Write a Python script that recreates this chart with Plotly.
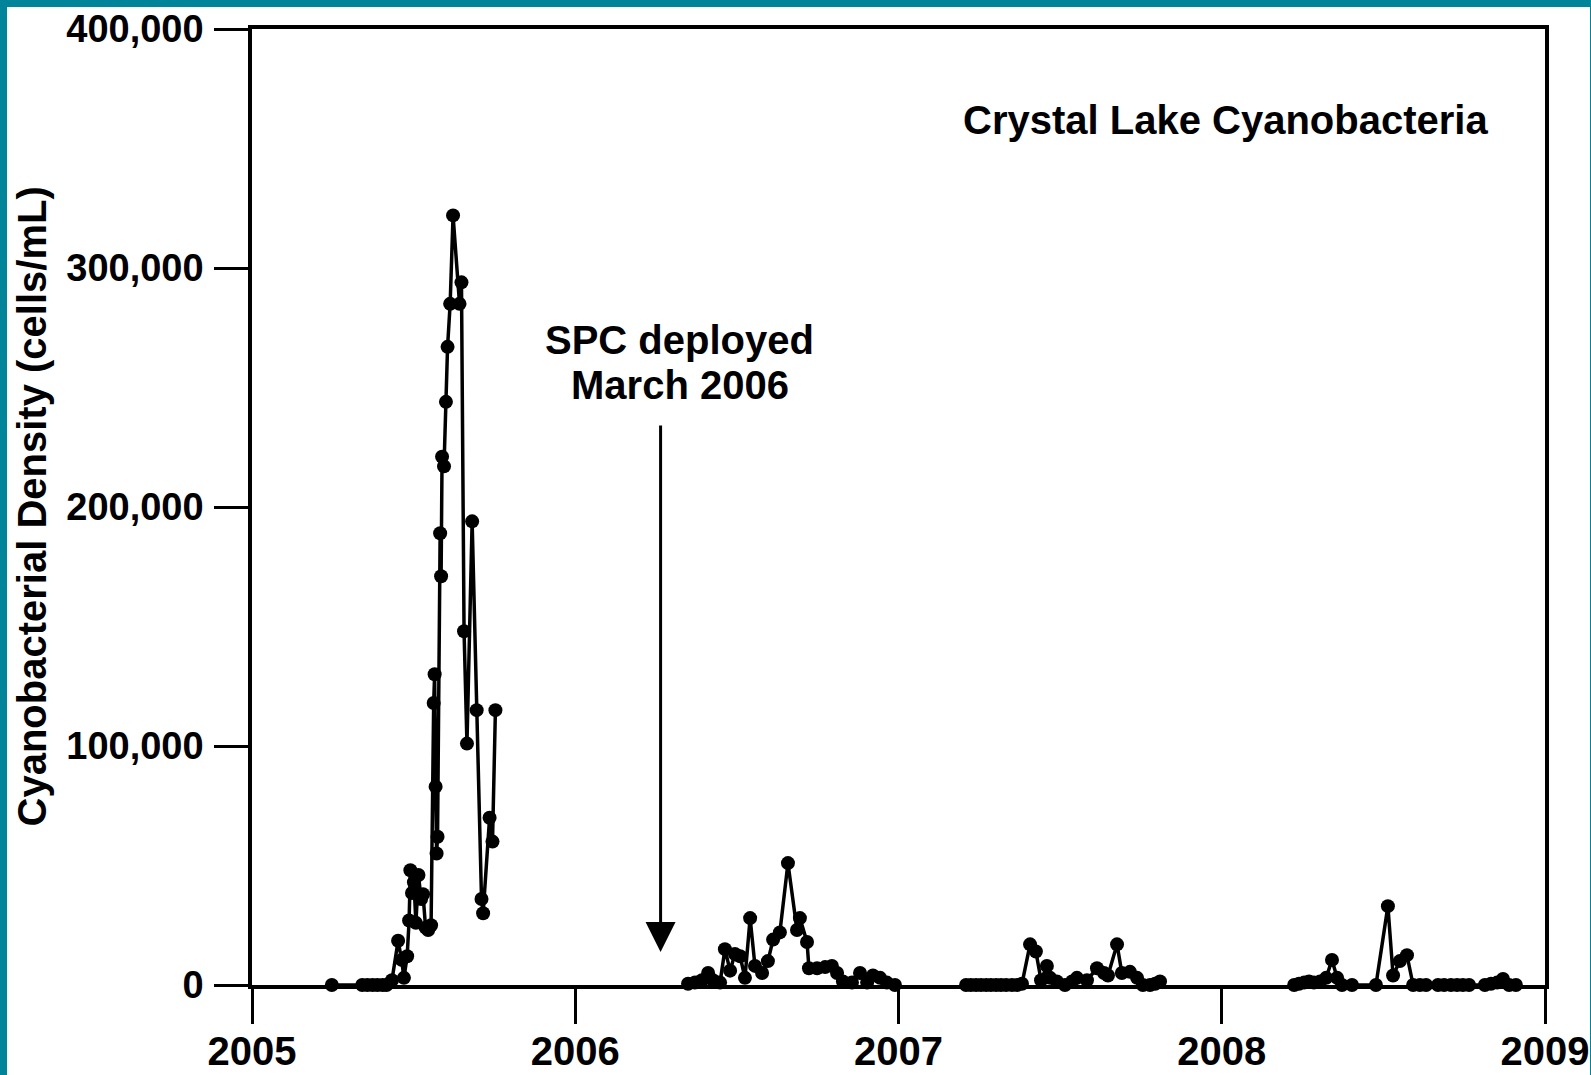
import plotly.graph_objects as go

# ---- data (decimal year, cells/mL) ----
years_2005 = [2005.247, 2005.341, 2005.357, 2005.373, 2005.388, 2005.404, 2005.416,
              2005.433, 2005.452, 2005.463, 2005.470, 2005.480, 2005.486, 2005.490,
              2005.495, 2005.501, 2005.507, 2005.515, 2005.523, 2005.529, 2005.537,
              2005.545, 2005.554, 2005.562, 2005.565, 2005.568, 2005.571, 2005.574,
              2005.582, 2005.585, 2005.588, 2005.594, 2005.600, 2005.605, 2005.613,
              2005.622, 2005.642, 2005.648, 2005.656, 2005.665, 2005.681, 2005.695,
              2005.710, 2005.715, 2005.735, 2005.744, 2005.753]
cells_2005 = [0, 0, 0, 0, 0, 0, 0,
              2000, 18500, 10500, 3000, 12000, 27000, 48000,
              38500, 43000, 26000, 46000, 36000, 38000, 24000,
              23000, 25000, 118000, 130000, 83000, 55000, 62000,
              189000, 171000, 221000, 217000, 244000, 267000, 285000,
              322000, 285000, 294000, 148000, 101000, 194000, 115000,
              36000, 30000, 70000, 60000, 115000]

years_2006 = [2006.349, 2006.370, 2006.392, 2006.411, 2006.426, 2006.448, 2006.463,
              2006.479, 2006.494, 2006.510, 2006.525, 2006.541, 2006.556, 2006.578,
              2006.596, 2006.612, 2006.633, 2006.658, 2006.686, 2006.695, 2006.717,
              2006.723, 2006.748, 2006.773, 2006.794, 2006.810, 2006.828, 2006.856,
              2006.881, 2006.903, 2006.921, 2006.943, 2006.964, 2006.989]
cells_2006 = [500, 1000, 2000, 5000, 2000, 1000, 15000,
              6000, 13000, 12000, 3000, 28000, 8000, 5000,
              10000, 19000, 22000, 51000, 23000, 28000, 18000,
              7000, 7000, 7500, 8000, 5000, 1500, 1000,
              5000, 1000, 4000, 3000, 1000, 0]

years_2007 = [2007.209, 2007.224, 2007.240, 2007.255, 2007.271, 2007.286, 2007.302,
              2007.317, 2007.333, 2007.351, 2007.367, 2007.382, 2007.407, 2007.425,
              2007.441, 2007.459, 2007.469, 2007.490, 2007.515, 2007.537, 2007.552,
              2007.583, 2007.614, 2007.636, 2007.648, 2007.676, 2007.691, 2007.716,
              2007.738, 2007.756, 2007.778, 2007.794, 2007.809]
cells_2007 = [0, 0, 0, 0, 0, 0, 0,
              0, 0, 0, 0, 500, 17000, 14000,
              2000, 8000, 3000, 1500, 0, 1500, 3000,
              2000, 7000, 5000, 4000, 17000, 5000, 5500,
              3000, 0, 0, 500, 1500]

years_2008 = [2008.224, 2008.239, 2008.255, 2008.270, 2008.285, 2008.304, 2008.323,
              2008.341, 2008.357, 2008.372, 2008.403, 2008.477, 2008.514, 2008.530,
              2008.551, 2008.573, 2008.592, 2008.613, 2008.632, 2008.669, 2008.688,
              2008.709, 2008.728, 2008.746, 2008.765, 2008.814, 2008.833, 2008.852,
              2008.870, 2008.889, 2008.910]
cells_2008 = [0, 500, 1000, 1500, 1000, 1500, 3000,
              10500, 3000, 0, 0, 0, 33000, 4000,
              10000, 12500, 0, 0, 0, 0, 0,
              0, 0, 0, 0, 0, 500, 1000,
              2500, 0, 0]

seasons = [(years_2005, cells_2005), (years_2006, cells_2006),
           (years_2007, cells_2007), (years_2008, cells_2008)]

x_ticks = [2005, 2006, 2007, 2008, 2009]
y_ticks = [0, 100000, 200000, 300000, 400000]

FONT = "Liberation Sans, Arial, sans-serif"
TEAL = "#00849a"

fig = go.Figure()
for xs, ys in seasons:
    fig.add_trace(go.Scatter(
        x=xs, y=ys, mode="lines+markers",
        line=dict(color="black", width=3.5),
        marker=dict(color="black", size=14),
        showlegend=False, cliponaxis=False,
    ))

# plot geometry (px): left 252, right 1545, top 29, bottom 985
L, R, T, B = 252, 1545, 29, 985
W, H = R - L, B - T

def px(xp):
    return (xp - L) / W

def py(yp):
    return (B - yp) / H

fig.update_layout(
    width=1591, height=1075,
    margin=dict(l=L, r=1591 - R, t=T, b=1075 - B, pad=0, autoexpand=False),
    paper_bgcolor=TEAL, plot_bgcolor="white",
    font=dict(family=FONT, color="black", weight="bold"),
    xaxis=dict(range=[2005, 2009], tickvals=x_ticks, ticktext=[str(v) for v in x_ticks],
               showline=True, linecolor="black", linewidth=3.5, mirror=True,
               ticks="outside", ticklen=35, tickwidth=3, tickcolor="black",
               showgrid=False, zeroline=False, automargin=False,
               tickfont=dict(size=40, family=FONT, weight="bold"),
               ticklabelstandoff=-7),
    yaxis=dict(range=[0, 400000], tickvals=y_ticks, tickformat=",d",
               showline=True, linecolor="black", linewidth=3.5, mirror=True,
               ticks="outside", ticklen=34, tickwidth=3, tickcolor="black",
               showgrid=False, zeroline=False, automargin=False,
               tickfont=dict(size=38, family=FONT, weight="bold"),
               ticklabelstandoff=3),
    shapes=[dict(type="rect", xref="paper", yref="paper",
                 x0=px(7), x1=px(1590), y0=py(1100), y1=py(7),
                 fillcolor="white", line=dict(width=0), layer="below")],
    annotations=[
        dict(text="Crystal Lake Cyanobacteria", xref="paper", yref="paper",
             x=px(961), y=py(120), xanchor="left", yanchor="middle", showarrow=False,
             font=dict(size=40, family=FONT, weight="bold")),
        dict(text="SPC deployed", xref="paper", yref="paper",
             x=px(679), y=py(340.5), xanchor="center", yanchor="middle", showarrow=False,
             font=dict(size=40, family=FONT, weight="bold")),
        dict(text="March 2006", xref="paper", yref="paper",
             x=px(679.5), y=py(385), xanchor="center", yanchor="middle", showarrow=False,
             font=dict(size=40, family=FONT, weight="bold")),
        dict(text="", x=2006.264, y=13800, ax=2006.264, ay=234700,
             xref="x", yref="y", axref="x", ayref="y",
             showarrow=True, arrowhead=2, arrowsize=2, arrowwidth=3, arrowcolor="black",
             standoff=0, startstandoff=0),
        dict(text="Cyanobacterial Density (cells/mL)", xref="paper", yref="paper",
             x=px(31.5), y=py(507), xanchor="center", yanchor="middle", textangle=-90,
             showarrow=False, font=dict(size=40, family=FONT, weight="bold")),
    ],
)

fig.write_html(
    "out.html",
    config={"displayModeBar": False},
    post_script="document.body.style.margin='0';document.body.style.padding='0';"
                "document.body.style.overflow='hidden';"
                "document.documentElement.style.overflow='hidden';",
)
